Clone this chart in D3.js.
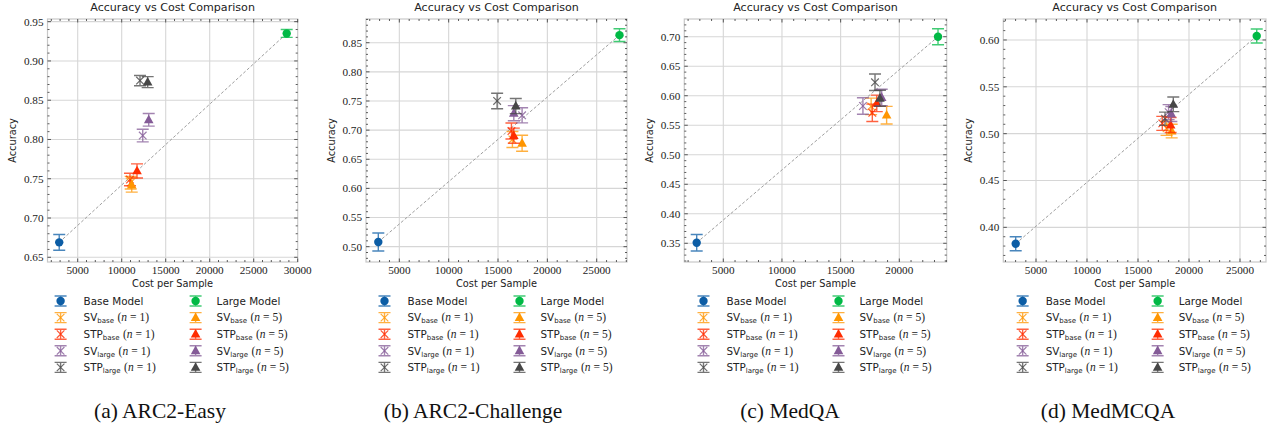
<!DOCTYPE html>
<html><head><meta charset="utf-8">
<script src="https://cdn.jsdelivr.net/npm/d3@7"></script>
<style>body{margin:0;background:#fff} svg{display:block}</style>
</head><body>
<svg id="c" width="1272" height="427"></svg>
<script>
// ---------- data ----------
const datasets = ["ARC2-Easy", "ARC2-Challenge", "MedQA", "MedMCQA"];
const captions = ["(a) ARC2-Easy", "(b) ARC2-Challenge", "(c) MedQA", "(d) MedMCQA"];

const seriesKeys = ["base", "svBase1", "stpBase1", "svLarge1", "stpLarge1", "large", "svBase5", "stpBase5", "svLarge5", "stpLarge5"];
const seriesColors = ["#0C5DA5", "#FF9500", "#FF2C00", "#845B97", "#474747", "#00B945", "#FF9500", "#FF2C00", "#845B97", "#474747"];
const seriesMarkers = ["o", "x", "x", "x", "x", "o", "^", "^", "^", "^"];
const labelMain = ["Base Model", "SV", "STP", "SV", "STP", "Large Model", "SV", "STP", "SV", "STP"];
const labelSub = ["", "base", "base", "large", "large", "", "base", "base", "large", "large"];
const labelN = [null, 1, 1, 1, 1, null, 5, 5, 5, 5];

// ARC2-Easy
const costArcEasy = [2900, 11020, 10940, 12390, 12080, 28750, 11140, 11740, 13070, 12950];
const accArcEasy  = [0.669, 0.745, 0.749, 0.805, 0.875, 0.935, 0.742, 0.760, 0.825, 0.873];
const errArcEasy  = [0.010, 0.008, 0.008, 0.008, 0.0065, 0.005, 0.009, 0.009, 0.008, 0.007];
// ARC2-Challenge
const costArcChal = [2870, 16460, 16360, 17440, 14910, 27310, 17440, 16600, 16600, 16800];
const accArcChal  = [0.508, 0.684, 0.6985, 0.7254, 0.750, 0.863, 0.6774, 0.6904, 0.729, 0.7414];
const errArcChal  = [0.0154, 0.0137, 0.0137, 0.013, 0.0134, 0.011, 0.0137, 0.013, 0.013, 0.013];
// MedQA
const costMedQA = [2733, 17600, 17700, 16900, 17930, 23300, 18920, 18080, 18500, 18350];
const accMedQA  = [0.351, 0.582, 0.571, 0.5826, 0.6228, 0.700, 0.567, 0.587, 0.597, 0.5957];
const errMedQA  = [0.014, 0.014, 0.0147, 0.014, 0.014, 0.0136, 0.015, 0.014, 0.014, 0.0136];
// MedMCQA
const costMedMCQA = [3010, 17800, 17380, 18000, 17650, 26640, 18300, 18200, 18270, 18460];
const accMedMCQA  = [0.3825, 0.5057, 0.511, 0.523, 0.516, 0.6043, 0.5028, 0.5092, 0.521, 0.5313];
const errMedMCQA  = [0.0075, 0.0075, 0.0075, 0.008, 0.007, 0.0075, 0.0073, 0.008, 0.008, 0.0078];

// ticks and axis limits
const xTicksArcEasy = [5000, 10000, 15000, 20000, 25000, 30000];
const yTicksArcEasy = [0.65, 0.70, 0.75, 0.80, 0.85, 0.90, 0.95];
const xTicksArcChal = [5000, 10000, 15000, 20000, 25000];
const yTicksArcChal = [0.50, 0.55, 0.60, 0.65, 0.70, 0.75, 0.80, 0.85];
const xTicksMedQA = [5000, 10000, 15000, 20000];
const yTicksMedQA = [0.35, 0.40, 0.45, 0.50, 0.55, 0.60, 0.65, 0.70];
const xTicksMedMCQA = [5000, 10000, 15000, 20000, 25000];
const yTicksMedMCQA = [0.40, 0.45, 0.50, 0.55, 0.60];

const xLimArcEasy = [1568, 30000], yLimArcEasy = [0.644, 0.9534];
const xLimArcChal = [1623, 28070], yLimArcChal = [0.4737, 0.8907];
const xLimMedQA = [1676, 24040], yLimMedQA = [0.3183, 0.730];
const xLimMedMCQA = [1794, 27549], yLimMedMCQA = [0.363, 0.6224];

const panelData = [
  {cost: costArcEasy, acc: accArcEasy, err: errArcEasy, xt: xTicksArcEasy, yt: yTicksArcEasy, xl: xLimArcEasy, yl: yLimArcEasy},
  {cost: costArcChal, acc: accArcChal, err: errArcChal, xt: xTicksArcChal, yt: yTicksArcChal, xl: xLimArcChal, yl: yLimArcChal},
  {cost: costMedQA, acc: accMedQA, err: errMedQA, xt: xTicksMedQA, yt: yTicksMedQA, xl: xLimMedQA, yl: yLimMedQA},
  {cost: costMedMCQA, acc: accMedMCQA, err: errMedMCQA, xt: xTicksMedMCQA, yt: yTicksMedMCQA, xl: xLimMedMCQA, yl: yLimMedMCQA}
];

// ---------- layout ----------
const plotX = [[47.5, 297.7], [366, 627], [684.3, 946.7], [1003.3, 1266]];
const plotY = [19, 262];
const captionX = [160, 473, 790, 1108];

const SANS = "'DejaVu Sans', sans-serif";
const SERIF = "'Liberation Serif', 'DejaVu Serif', serif";

const svg = d3.select("#c");

function drawMarker(g, type, color, cx, cy, alpha) {
  if (type === "o") {
    g.append("circle").attr("cx", cx).attr("cy", cy).attr("r", 4.2).attr("fill", color).attr("opacity", alpha);
  } else if (type === "^") {
    const p = d3.path();
    p.moveTo(cx, cy - 5.2); p.lineTo(cx + 4.8, cy + 3.4); p.lineTo(cx - 4.8, cy + 3.4); p.closePath();
    g.append("path").attr("d", p.toString()).attr("fill", color).attr("opacity", alpha);
  } else {
    const s = 3.8;
    const p = d3.path();
    p.moveTo(cx - s, cy - s); p.lineTo(cx + s, cy + s);
    p.moveTo(cx - s, cy + s); p.lineTo(cx + s, cy - s);
    g.append("path").attr("d", p.toString()).attr("stroke", color).attr("stroke-width", 1.2).attr("fill", "none").attr("opacity", alpha);
  }
}

function drawErr(g, color, cx, yTop, yBot, alpha) {
  const p = d3.path();
  p.moveTo(cx, yTop); p.lineTo(cx, yBot);
  p.moveTo(cx - 6, yTop); p.lineTo(cx + 6, yTop);
  p.moveTo(cx - 6, yBot); p.lineTo(cx + 6, yBot);
  g.append("path").attr("d", p.toString()).attr("stroke", color).attr("stroke-width", 1.4).attr("fill", "none").attr("opacity", alpha);
}

function minorTicks(major, step, lim) {
  const out = [];
  const start = major[0] - Math.ceil((major[0] - lim[0]) / step) * step;
  for (let v = start; v <= lim[1] + 1e-9; v += step) {
    const isMajor = major.some(m => Math.abs(m - v) < step * 0.01);
    if (!isMajor && v >= lim[0] && v <= lim[1]) out.push(v);
  }
  return out;
}

panelData.forEach((d, pi) => {
  const [x0, x1] = plotX[pi];
  const [y0, y1] = plotY;
  const x = d3.scaleLinear().domain(d.xl).range([x0, x1]);
  const y = d3.scaleLinear().domain(d.yl).range([y1, y0]);
  const g = svg.append("g");

  // grid
  const grid = g.append("g");
  grid.selectAll(".gx").data(d.xt.filter(t => x(t) > x0 + 1 && x(t) < x1 - 1)).enter().append("line")
    .attr("x1", t => x(t)).attr("x2", t => x(t)).attr("y1", y0).attr("y2", y1)
    .attr("stroke", "#d6d6d6").attr("stroke-width", 1.1);
  grid.selectAll(".gy").data(d.yt.filter(t => y(t) > y0 + 1 && y(t) < y1 - 1)).enter().append("line")
    .attr("y1", t => y(t)).attr("y2", t => y(t)).attr("x1", x0).attr("x2", x1)
    .attr("stroke", "#d6d6d6").attr("stroke-width", 1.1);

  // spines
  g.append("rect").attr("x", x0).attr("y", y0).attr("width", x1 - x0).attr("height", y1 - y0)
    .attr("fill", "none").attr("stroke", "#c8c8c8").attr("stroke-width", 1.2);

  // ticks (inward, all sides)
  const tk = g.append("g").attr("stroke", "#333").attr("stroke-width", 0.8);
  const xMinor = minorTicks(d.xt, 1000, d.xl);
  const yMinor = minorTicks(d.yt, 0.01, d.yl);
  d.xt.forEach(t => {
    tk.append("line").attr("x1", x(t)).attr("x2", x(t)).attr("y1", y1).attr("y2", y1 - 3.5);
    tk.append("line").attr("x1", x(t)).attr("x2", x(t)).attr("y1", y0).attr("y2", y0 + 3.5);
  });
  xMinor.forEach(t => {
    tk.append("line").attr("x1", x(t)).attr("x2", x(t)).attr("y1", y1).attr("y2", y1 - 2);
    tk.append("line").attr("x1", x(t)).attr("x2", x(t)).attr("y1", y0).attr("y2", y0 + 2);
  });
  d.yt.forEach(t => {
    tk.append("line").attr("y1", y(t)).attr("y2", y(t)).attr("x1", x0).attr("x2", x0 + 3.5);
    tk.append("line").attr("y1", y(t)).attr("y2", y(t)).attr("x1", x1).attr("x2", x1 - 3.5);
  });
  yMinor.forEach(t => {
    tk.append("line").attr("y1", y(t)).attr("y2", y(t)).attr("x1", x0).attr("x2", x0 + 2);
    tk.append("line").attr("y1", y(t)).attr("y2", y(t)).attr("x1", x1).attr("x2", x1 - 2);
  });

  // tick labels
  g.selectAll(".xl").data(d.xt).enter().append("text")
    .attr("x", t => x(t)).attr("y", 273.5).attr("text-anchor", "middle")
    .attr("font-family", SERIF).attr("font-size", 11.2).attr("fill", "#222")
    .text(t => d3.format("d")(t));
  g.selectAll(".yl").data(d.yt).enter().append("text")
    .attr("x", x0 - 4).attr("y", t => y(t)).attr("dy", "0.35em").attr("text-anchor", "end")
    .attr("font-family", SERIF).attr("font-size", 11.2).attr("fill", "#222")
    .text(t => d3.format(".2f")(t));

  // titles
  const cx = (x0 + x1) / 2;
  g.append("text").attr("x", cx).attr("y", 11).attr("text-anchor", "middle")
    .attr("font-family", SANS).attr("font-size", 11.1).attr("fill", "#222")
    .text("Accuracy vs Cost Comparison");
  g.append("text").attr("x", cx).attr("y", 287).attr("text-anchor", "middle")
    .attr("font-family", SANS).attr("font-size", 9.8).attr("fill", "#222")
    .text("Cost per Sample");
  g.append("text").attr("transform", `translate(${x0 - 34.5},${(y0 + y1) / 2}) rotate(-90)`)
    .attr("dy", "0.35em").attr("text-anchor", "middle")
    .attr("font-family", SANS).attr("font-size", 9.8).attr("fill", "#222")
    .text("Accuracy");

  // dashed reference line base -> large
  const bi = seriesKeys.indexOf("base"), li = seriesKeys.indexOf("large");
  g.append("line")
    .attr("x1", x(d.cost[bi])).attr("y1", y(d.acc[bi]))
    .attr("x2", x(d.cost[li])).attr("y2", y(d.acc[li]))
    .attr("stroke", "#9e9e9e").attr("stroke-width", 1).attr("stroke-dasharray", "3,2");

  // points
  seriesKeys.forEach((k, si) => {
    const c = seriesColors[si];
    const px = x(d.cost[si]), py = y(d.acc[si]);
    drawErr(g, c, px, y(d.acc[si] + d.err[si]), y(d.acc[si] - d.err[si]), 0.75);
    drawMarker(g, seriesMarkers[si], c, px, py, seriesMarkers[si] === "x" ? 0.8 : 1);
  });

  // legend
  const leg = g.append("g");
  seriesKeys.forEach((k, si) => {
    const col = si < 5 ? 0 : 1;
    const row = si % 5;
    const mx = col === 0 ? cx - 112 : cx + 23;
    const tx = col === 0 ? cx - 89 : cx + 44;
    const ry = 301 + row * 16.6;
    const c = seriesColors[si];
    drawErr(leg, c, mx, ry - 5, ry + 5, 0.75);
    drawMarker(leg, seriesMarkers[si], c, mx, ry, seriesMarkers[si] === "x" ? 0.8 : 1);
    const t = leg.append("text").attr("x", tx).attr("y", ry + 3.7)
      .attr("font-family", SANS).attr("font-size", 10.4).attr("fill", "#222");
    t.append("tspan").text(labelMain[si]);
    if (labelSub[si]) {
      t.append("tspan").attr("font-size", 7).attr("dy", 2).text(labelSub[si]);
      t.append("tspan").attr("dy", -2).attr("dx", 3.5).attr("font-family", SERIF).attr("font-size", 11.5).text("(");
      t.append("tspan").attr("font-family", SERIF).attr("font-size", 11.5).attr("font-style", "italic").text("n");
      t.append("tspan").attr("dx", 3).attr("font-family", SERIF).attr("font-size", 11.5).text("=");
      t.append("tspan").attr("dx", 3).attr("font-family", SERIF).attr("font-size", 11.5).text(labelN[si] + ")");
    }
  });

  // caption
  svg.append("text").attr("x", captionX[pi]).attr("y", 418).attr("text-anchor", "middle")
    .attr("font-family", SERIF).attr("font-size", 21.5).attr("fill", "#111")
    .text(captions[pi]);
});
</script>
</body></html>
